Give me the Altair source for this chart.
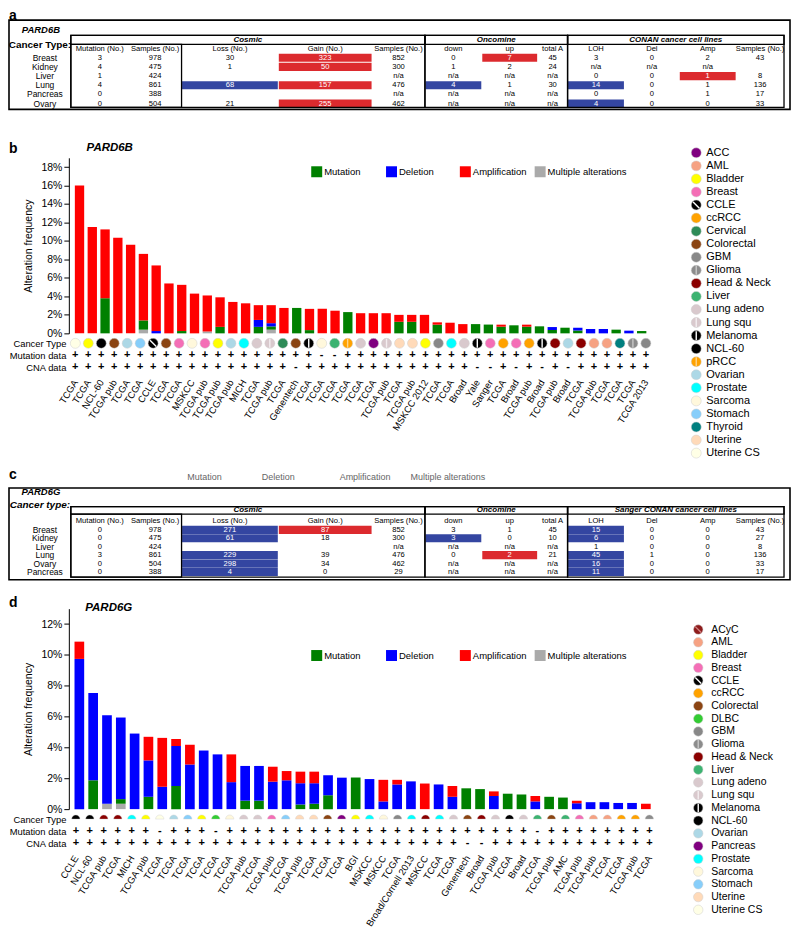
import json
import altair as alt
import pandas as pd

FONT = "Liberation Sans"

# ======================= Panel a : PARD6B table =======================
a_gene = "PARD6B"
a_types = ["Breast", "Kidney", "Liver", "Lung", "Pancreas", "Ovary"]
a_mutation = ["3", "4", "1", "4", "0", "0"]
a_samples = ["978", "475", "424", "861", "388", "504"]
a_loss = ["30", "1", "", "68", "", "21"]
a_gain = ["323", "50", "", "157", "", "255"]
a_cosmic_samples = ["852", "300", "n/a", "476", "n/a", "462"]
a_down = ["0", "1", "n/a", "4", "n/a", "n/a"]
a_up = ["7", "2", "n/a", "1", "n/a", "n/a"]
a_total = ["45", "24", "n/a", "30", "n/a", "n/a"]
a_loh = ["3", "n/a", "0", "14", "0", "4"]
a_del = ["0", "n/a", "0", "0", "0", "0"]
a_amp = ["2", "n/a", "1", "1", "1", "0"]
a_conan_samples = ["43", "", "8", "136", "17", "33"]
# highlighted cells: R = red (over), B = blue (under)
a_loss_hl = ["", "", "", "B", "", ""]
a_gain_hl = ["R", "R", "", "R", "", "R"]
a_down_hl = ["", "", "", "B", "", ""]
a_up_hl = ["R", "", "", "", "", ""]
a_loh_hl = ["", "", "", "B", "", "B"]
a_amp_hl = ["", "", "R", "", "", ""]
a_groups = ["Cosmic", "Oncomine", "CONAN cancer cell lines"]

# ======================= Panel c : PARD6G table =======================
c_gene = "PARD6G"
c_types = ["Breast", "Kidney", "Liver", "Lung", "Ovary", "Pancreas"]
c_mutation = ["0", "0", "0", "3", "0", "0"]
c_samples = ["978", "475", "424", "861", "504", "388"]
c_loss = ["271", "61", "", "229", "298", "4"]
c_gain = ["87", "18", "", "39", "34", "0"]
c_cosmic_samples = ["852", "300", "n/a", "476", "462", "29"]
c_down = ["3", "3", "n/a", "0", "n/a", "n/a"]
c_up = ["1", "0", "n/a", "2", "n/a", "n/a"]
c_total = ["45", "10", "n/a", "21", "n/a", "n/a"]
c_loh = ["15", "6", "1", "45", "16", "11"]
c_del = ["0", "0", "0", "1", "0", "0"]
c_amp = ["0", "0", "0", "0", "0", "0"]
c_conan_samples = ["43", "27", "8", "136", "33", "17"]
c_loss_hl = ["B", "B", "", "B", "B", "B"]
c_gain_hl = ["R", "", "", "", "", ""]
c_down_hl = ["", "B", "", "", "", ""]
c_up_hl = ["", "", "", "R", "", ""]
c_loh_hl = ["B", "B", "", "B", "B", "B"]
c_groups = ["Cosmic", "Oncomine", "Sanger CONAN cancer cell lines"]

table_headers = ["Mutation (No.)", "Samples (No.)", "Loss (No.)", "Gain (No.)", "Samples (No.)",
                 "down", "up", "total A", "LOH", "Del", "Amp", "Samples (No.)"]
stray_legend_text = ["Mutation", "Deletion", "Amplification", "Multiple alterations"]

# ======================= Panel b : PARD6B cross-cancer =======================
b_labels = ["TCGA", "TCGA", "NCL-60", "TCGA pub", "TCGA", "TCGA", "CCLE", "TCGA", "TCGA", "MSKCC",
            "TCGA pub", "TCGA pub", "TCGA pub", "MICH", "TCGA", "TCGA pub", "TCGA", "Genentech", "TCGA", "TCGA",
            "TCGA", "TCGA", "TCGA", "TCGA", "TCGA pub", "TCGA", "TCGA pub", "MSKCC 2012", "TCGA", "TCGA",
            "Broad", "Yale", "Sanger", "TCGA", "Broad", "TCGA pub", "Broad", "TCGA pub", "Broad", "TCGA",
            "TCGA pub", "TCGA", "TCGA", "TCGA", "TCGA 2013"]
b_types = ["Uterine CS", "Bladder", "NCL-60", "Colorectal", "Ovarian", "Stomach", "CCLE", "Colorectal", "Breast", "Sarcoma",
           "Breast", "Bladder", "Ovarian", "Prostate", "Lung adeno", "Lung squ", "Cervical", "Colorectal", "Melanoma", "Sarcoma",
           "Liver", "pRCC", "Lung adeno", "ACC", "Lung squ", "Uterine", "Uterine", "Bladder", "GBM", "Prostate",
           "Lung adeno", "Melanoma", "Breast", "ccRCC", "Breast", "ccRCC", "Melanoma", "Head & Neck", "Ovarian", "Head & Neck",
           "AML", "AML", "Thyroid", "Glioma", "GBM"]
b_mutation_data = ["+"] * 19 + ["-", "-"] + ["+"] * 24
b_cna_data = (["+"] * 17 + ["-"] + ["+"] * 13 + ["-", "-", "+", "-", "+", "-", "+", "-"] + ["+"] * 6)
b_mut = [0, 0, 3.8, 0, 0, 1.0, 0, 0, 0.25, 0, 0, 0.7, 0, 0, 0.7, 0.35, 0, 2.75, 0.35, 0,
         0, 2.3, 0, 0, 0, 1.25, 1.25, 0, 0.94, 0, 0, 1.0, 0.95, 0.72, 0.87, 0.72, 0.76, 0.36, 0.61, 0.3,
         0, 0, 0.4, 0, 0.25]
b_del = [0, 0, 0, 0, 0, 0, 0.25, 0, 0, 0, 0, 0, 0, 0, 0.75, 0.35, 0, 0, 0, 0,
         0, 0, 0, 0, 0, 0, 0, 0, 0, 0, 0, 0, 0, 0, 0, 0, 0, 0.32, 0, 0.3,
         0.47, 0.47, 0, 0.29, 0]
b_amp = [16.0, 11.5, 7.45, 10.35, 9.6, 7.2, 7.1, 5.4, 5.0, 4.3, 3.9, 3.2, 3.4, 3.25, 1.6, 1.95, 2.75, 0, 2.3, 2.65,
         2.45, 0, 2.18, 2.18, 2.18, 0.75, 0.75, 2.0, 0.25, 1.15, 1.0, 0, 0, 0.22, 0, 0.22, 0, 0, 0, 0,
         0, 0, 0, 0, 0]
b_multi = [0, 0, 0, 0, 0, 0.4, 0, 0, 0, 0, 0.2, 0, 0, 0, 0, 0.4, 0, 0, 0, 0,
           0, 0, 0, 0, 0, 0, 0, 0, 0, 0, 0, 0, 0, 0, 0, 0, 0, 0, 0, 0,
           0, 0, 0, 0, 0]
b_ticks = [0, 0.02, 0.04, 0.06, 0.08, 0.10, 0.12, 0.14, 0.16, 0.18]
b_legend = ["ACC", "AML", "Bladder", "Breast", "CCLE", "ccRCC", "Cervical", "Colorectal", "GBM", "Glioma",
            "Head & Neck", "Liver", "Lung adeno", "Lung squ", "Melanoma", "NCL-60", "pRCC", "Ovarian", "Prostate",
            "Sarcoma", "Stomach", "Thyroid", "Uterine", "Uterine CS"]

# ======================= Panel d : PARD6G cross-cancer =======================
d_labels = ["CCLE", "NCL-60", "TCGA pub", "TCGA", "MICH", "TCGA pub", "TCGA", "TCGA", "TCGA", "TCGA",
            "TCGA", "TCGA", "TCGA pub", "TCGA", "TCGA pub", "TCGA", "TCGA pub", "TCGA", "TCGA", "TCGA",
            "BGI", "MSKCC", "MSKCC", "TCGA", "Broad/Cornell 2013", "MSKCC", "TCGA", "TCGA", "Genentech", "Broad",
            "TCGA pub", "TCGA", "Broad", "TCGA", "TCGA pub", "AMC", "TCGA pub", "TCGA pub", "TCGA", "TCGA",
            "TCGA pub", "TCGA"]
d_types = ["CCLE", "NCL-60", "Head & Neck", "Head & Neck", "Prostate", "Bladder", "Uterine CS", "Ovarian", "Stomach", "Bladder",
           "DLBC", "Sarcoma", "Lung adeno", "Lung squ", "Breast", "Stomach", "Uterine", "Uterine", "Colorectal", "Pancreas",
           "Bladder", "Prostate", "Sarcoma", "GBM", "Prostate", "Head & Neck", "Prostate", "Lung adeno", "Colorectal", "Head & Neck",
           "Lung adeno", "Melanoma", "Lung adeno", "Liver", "Colorectal", "Liver", "Breast", "AML", "AML", "ccRCC",
           "ccRCC", "Glioma"]
d_mutation_data = ["+"] * 6 + ["-"] + ["+"] * 3 + ["-"] + ["+"] * 22 + ["-"] + ["+"] * 8
d_cna_data = ["+"] * 28 + ["-", "-"] + ["+"] * 12
d_mut = [0, 1.87, 0, 0.3, 0, 0.8, 0, 1.5, 0, 0,
         0, 0, 0.55, 0.55, 0, 0, 0.3, 0.35, 0.9, 0,
         2.05, 0, 0, 0, 0, 0, 0, 0, 1.35, 1.3,
         0, 1.0, 0.95, 0, 0.8, 0.75, 0, 0, 0, 0, 0, 0]
d_del = [9.74, 5.66, 5.74, 5.29, 4.9, 2.36, 1.45, 2.59, 2.9, 3.8,
         3.55, 1.75, 2.25, 2.25, 1.78, 1.87, 1.38, 1.33, 1.3, 2.04,
         0, 1.95, 0.5, 1.6, 1.8, 0, 1.6, 0.8, 0, 0,
         0.85, 0, 0, 0.5, 0, 0, 0.38, 0.45, 0.45, 0.4, 0.4, 0]
d_amp = [1.12, 0, 0, 0, 0, 1.53, 3.17, 0.45, 1.27, 0,
         0, 1.8, 0, 0, 0.97, 0.6, 0.75, 0.75, 0, 0,
         0, 0, 1.4, 0.3, 0, 1.66, 0, 0.7, 0, 0,
         0.3, 0, 0, 0.35, 0, 0, 0.17, 0, 0, 0, 0, 0.35]
d_multi = [0, 0, 0.35, 0.35, 0, 0, 0, 0, 0, 0,
           0, 0, 0, 0, 0, 0, 0, 0, 0, 0,
           0, 0, 0, 0, 0, 0, 0, 0, 0, 0,
           0, 0, 0, 0, 0, 0, 0, 0, 0, 0, 0, 0]
d_ticks = [0, 0.02, 0.04, 0.06, 0.08, 0.10, 0.12]
d_legend = ["ACyC", "AML", "Bladder", "Breast", "CCLE", "ccRCC", "Colorectal", "DLBC", "GBM", "Glioma",
            "Head & Neck", "Liver", "Lung adeno", "Lung squ", "Melanoma", "NCL-60", "Ovarian", "Pancreas",
            "Prostate", "Sarcoma", "Stomach", "Uterine", "Uterine CS"]

# ======================= styles / layout =======================
CT_COLORS = {
    "ACC": "#800080", "ACyC": "#8E1B1B", "AML": "#F6A283", "Bladder": "#FFFF00", "Breast": "#F46EB6",
    "CCLE": "#000000", "ccRCC": "#FFA200", "Cervical": "#2E8B57", "Colorectal": "#8B4513", "DLBC": "#33CC33",
    "GBM": "#888888", "Glioma": "#8C8C8C", "Head & Neck": "#8B0000", "Liver": "#3CB371", "Lung adeno": "#D9C9CD",
    "Lung squ": "#D9C9CD", "Melanoma": "#000000", "NCL-60": "#000000", "pRCC": "#FFA200", "Ovarian": "#ADD8E6",
    "Pancreas": "#800080", "Prostate": "#00FFFF", "Sarcoma": "#FFF8DC", "Stomach": "#87CEFA", "Thyroid": "#008080",
    "Uterine": "#FFDAB9", "Uterine CS": "#FFFFE6",
}
DIAG = "M-0.7,-0.7L0.7,0.7"
VERT = "M0,-1L0,1"
CT_PATTERN = {"CCLE": (DIAG, "#FFFFFF"), "ACyC": (DIAG, "#D08080"), "Melanoma": (VERT, "#FFFFFF"),
              "Glioma": (VERT, "#C8C8C8"), "pRCC": (VERT, "#FFD58A"), "Lung squ": (VERT, "#F4EEF0")}
ALT_NAMES = ["Mutation", "Deletion", "Amplification", "Multiple alterations"]
ALT_COLORS = {"Mutation": "#008000", "Deletion": "#0000FF", "Amplification": "#FF0000",
              "Multiple alterations": "#AAAAAA"}
ALT_LEGEND_X = [311, 386, 460, 535]
HL_FILL = {"R": "#DC2A2E", "B": "#3446A1"}
COL_EDGES = [70, 128, 181, 278, 372, 425, 482, 538, 568, 625, 680, 737, 785]
GROUP_COLS = [(0, 5), (5, 8), (8, 12)]
ORIGIN_X = 68          # x of the bar charts' y axis (reference pixels)
TABLE_W = 724
D_TOP = 609            # top of panel d plot area
D_SHIFT = D_TOP - 611
LETTER = {"fontSize": 14, "fontWeight": "bold", "align": "left", "baseline": "top"}


def table_layers(gene, type_label, type_italic, types, columns, highlights, groups, L, extras, y0, y1):
    X = alt.X("x:Q", scale=alt.Scale(domain=[ORIGIN_X, ORIGIN_X + TABLE_W], nice=False, zero=False), axis=None)
    Y = alt.Y("y:Q", scale=alt.Scale(domain=[y0, y1], nice=False, zero=False, reverse=True), axis=None)
    E = COL_EDGES
    cells, rects = [], []
    for r in range(len(types)):
        yc = L["row0"] + r * L["step"]
        for c, vals in enumerate(columns):
            h = highlights[c][r] if highlights[c] else ""
            if vals[r] != "":
                cells.append({"x": (E[c] + E[c + 1]) / 2, "y": yc, "text": vals[r],
                              "tc": "white" if h else "black"})
            if h:
                rects.append({"x": E[c] + 0.5, "x2": E[c + 1] - 0.5, "y": yc - 4.1, "y2": yc + 4.1,
                              "fill": HL_FILL[h]})
    boxes = [{"x": 8, "x2": 791, "y": L["box_top"], "y2": L["box_bot"], "sw": 1.6}]
    for g0, g1 in GROUP_COLS:
        boxes.append({"x": E[g0], "x2": E[g1], "y": L["hdr_top"], "y2": L["hdr_bot"], "sw": 1.3})
        boxes.append({"x": E[g0], "x2": E[g1], "y": L["hdr_top"], "y2": L["inner_bot"], "sw": 1.3})
    boxes.append({"x": E[0], "x2": E[2], "y": L["hdr_bot"], "y2": L["inner_bot"], "sw": 1.3})

    grp = pd.DataFrame([{"x": (E[g0] + E[g1]) / 2, "y": (L["hdr_top"] + L["hdr_bot"]) / 2, "text": g}
                        for (g0, g1), g in zip(GROUP_COLS, groups)])
    hdr = pd.DataFrame([{"x": (E[c] + E[c + 1]) / 2, "y": L["col_y"], "text": t}
                        for c, t in enumerate(table_headers)])
    rowlab = pd.DataFrame([{"x": 44, "y": L["row0"] + r * L["step"], "text": t} for r, t in enumerate(types)])

    layers = [
        alt.Chart(pd.DataFrame(rects)).mark_rect().encode(
            x=X, x2="x2:Q", y=Y, y2="y2:Q", color=alt.Color("fill:N", scale=None)),
        alt.Chart(pd.DataFrame(boxes)).mark_rect(filled=False, stroke="black").encode(
            x=X, x2="x2:Q", y=Y, y2="y2:Q", strokeWidth=alt.StrokeWidth("sw:Q", scale=None)),
        alt.Chart(pd.DataFrame(cells)).mark_text(fontSize=7.6, baseline="middle").encode(
            x=X, y=Y, text="text:N", color=alt.Color("tc:N", scale=None)),
        alt.Chart(grp).mark_text(fontSize=8, fontWeight="bold", fontStyle="italic", baseline="middle").encode(
            x=X, y=Y, text="text:N"),
        alt.Chart(hdr).mark_text(fontSize=7.6, baseline="middle").encode(x=X, y=Y, text="text:N"),
        alt.Chart(rowlab).mark_text(fontSize=8.5, baseline="middle").encode(x=X, y=Y, text="text:N"),
        alt.Chart(pd.DataFrame([{"x": 40, "y": L["gene_y"], "text": gene}])).mark_text(
            fontSize=9.5, fontWeight="bold", fontStyle="italic", baseline="middle").encode(x=X, y=Y, text="text:N"),
        alt.Chart(pd.DataFrame([{"x": 39, "y": L["type_y"], "text": type_label}])).mark_text(
            fontSize=10, fontWeight="bold", fontStyle="italic" if type_italic else "normal",
            baseline="middle").encode(x=X, y=Y, text="text:N"),
    ]
    for ex in extras:
        kw = {"baseline": "middle"}
        kw.update(ex["style"])
        layers.append(alt.Chart(pd.DataFrame(ex["rows"])).mark_text(**kw).encode(x=X, y=Y, text="text:N"))
    return layers


def bar_long(mut, dele, amp, multi):
    rows = []
    for i in range(len(mut)):
        for name, arr, o in [("Multiple alterations", multi, 0), ("Mutation", mut, 1),
                             ("Deletion", dele, 2), ("Amplification", amp, 3)]:
            if arr[i] > 0:
                rows.append({"idx": i, "alteration": name, "freq": arr[i] / 100.0, "ord": o,
                             "col": ALT_COLORS[name]})
    return pd.DataFrame(rows)


def bar_chart(df, n, width, height, ymax, ticks, pi, po, leg_y):
    xs = alt.Scale(domain=list(range(n)), paddingInner=pi, paddingOuter=po)
    bars = alt.Chart(df).mark_bar().encode(
        x=alt.X("idx:O", scale=xs, axis=None),
        y=alt.Y("freq:Q", stack="zero", scale=alt.Scale(domain=[0, ymax], nice=False),
                axis=alt.Axis(values=ticks, format=".0%", title="Alteration frequency", grid=False,
                              domainColor="black", tickColor="black", labelColor="black", titleColor="black",
                              labelFontSize=10.5, titleFontSize=10.5, titleFontWeight="normal", tickSize=5,
                              labelPadding=2, titlePadding=7)),
        color=alt.Color("col:N", scale=None),
        order=alt.Order("ord:Q", sort="ascending"),
    )
    leg = pd.DataFrame({"name": ALT_NAMES, "col": [ALT_COLORS[k] for k in ALT_NAMES],
                        "sx": [x - ORIGIN_X + 5.5 for x in ALT_LEGEND_X],
                        "tx": [x - ORIGIN_X + 13 for x in ALT_LEGEND_X]})
    lx = alt.Scale(domain=[0, width], nice=False, zero=False)
    squares = alt.Chart(leg).mark_square(size=121, opacity=1).encode(
        x=alt.X("sx:Q", scale=lx, axis=None), y=alt.value(leg_y), color=alt.Color("col:N", scale=None))
    texts = alt.Chart(leg).mark_text(fontSize=9.5, align="left", baseline="middle").encode(
        x=alt.X("tx:Q", scale=lx, axis=None), y=alt.value(leg_y), text="name:N")
    return alt.layer(bars, alt.layer(squares, texts)).resolve_scale(x="independent").properties(
        width=width, height=height)


def ct_legend(names, cx, tx, y_first, step, top_ref, size, font):
    ly = [y_first + k * step - top_ref for k in range(len(names))]
    df = pd.DataFrame({"name": names, "col": [CT_COLORS[n] for n in names], "ly": ly,
                       "pat": [CT_PATTERN.get(n, ("", ""))[0] for n in names],
                       "pcol": [CT_PATTERN.get(n, ("", ""))[1] for n in names]})
    ys = alt.Scale(domain=[0, 44], nice=False, zero=False, reverse=True)
    Y = alt.Y("ly:Q", scale=ys, axis=None)
    dots = alt.Chart(df).mark_circle(size=size, opacity=1, stroke="#cfcfcf", strokeWidth=0.5).encode(
        x=alt.value(cx - ORIGIN_X), y=Y, color=alt.Color("col:N", scale=None))
    stripes = alt.Chart(df[df["pat"] != ""]).mark_point(filled=False, strokeWidth=1.4, size=size * 0.8,
                                                        opacity=1).encode(
        x=alt.value(cx - ORIGIN_X), y=Y, shape=alt.Shape("pat:N", scale=None),
        color=alt.Color("pcol:N", scale=None))
    text = alt.Chart(df).mark_text(fontSize=font, align="left", baseline="middle").encode(
        x=alt.value(tx - ORIGIN_X), y=Y, text="name:N")
    return alt.layer(dots, stripes, text)


def track_chart(n, labels, types, mut_data, cna_data, width, pi, po, legend, semicircle):
    rows = ["Cancer Type", "Mutation data", "CNA data"]
    ys = alt.Scale(type="point", domain=rows, padding=0.833)
    xs = alt.Scale(domain=list(range(n)), paddingInner=pi, paddingOuter=po)
    lab_expr = json.dumps(labels) + "[datum.value]"
    xaxis = alt.Axis(title=None, labelExpr=lab_expr, labelAngle=302, ticks=False, domain=False,
                     labelFontSize=9.5, labelPadding=3, labelColor="black", labelOverlap=False, orient="bottom")
    yaxis = alt.Axis(title=None, domain=False, ticks=False, labelFontSize=9.4, labelPadding=3,
                     labelColor="black")
    circ = pd.DataFrame({"idx": list(range(n)), "row": ["Cancer Type"] * n,
                         "col": [CT_COLORS[t] for t in types],
                         "pat": [CT_PATTERN.get(t, ("", ""))[0] for t in types],
                         "pcol": [CT_PATTERN.get(t, ("", ""))[1] for t in types]})
    signs = pd.DataFrame({"idx": list(range(n)) * 2,
                          "row": ["Mutation data"] * n + ["CNA data"] * n,
                          "sign": mut_data + cna_data})
    X = alt.X("idx:O", scale=xs, axis=xaxis)
    if semicircle:
        mark = alt.Chart(circ).mark_point(shape="M-1,0A1,1,0,0,1,1,0Z", filled=True, size=70, opacity=1,
                                          stroke="#cfcfcf", strokeWidth=0.4)
    else:
        mark = alt.Chart(circ).mark_circle(size=100, opacity=1, stroke="#cfcfcf", strokeWidth=0.5)
    circles = mark.encode(x=X, y=alt.Y("row:N", scale=ys, axis=yaxis), color=alt.Color("col:N", scale=None))
    layers = [circles]
    if not semicircle:
        layers.append(alt.Chart(circ[circ["pat"] != ""]).mark_point(filled=False, strokeWidth=1.4, size=80,
                                                                    opacity=1).encode(
            x=alt.X("idx:O", scale=xs), y=alt.Y("row:N", scale=ys),
            shape=alt.Shape("pat:N", scale=None), color=alt.Color("pcol:N", scale=None)))
    layers.append(alt.Chart(signs).mark_text(fontSize=11, fontWeight="bold", baseline="middle").encode(
        x=alt.X("idx:O", scale=xs), y=alt.Y("row:N", scale=ys), text="sign:N"))
    return alt.layer(alt.layer(*layers), legend).resolve_scale(y="independent").properties(
        width=width, height=44)


# ---------------- section 1 : table a (+ panel b headings) ----------------
LA = {"box_top": 19, "box_bot": 108.5, "gene_y": 28.5, "type_y": 43.5, "hdr_top": 34.3, "hdr_bot": 43.3,
      "col_y": 48.3, "row0": 56.7, "step": 9.2, "inner_bot": 106.5}
extras_a = [
    {"rows": [{"x": 8, "y": 8, "text": "a"}], "style": LETTER},
    {"rows": [{"x": 8, "y": 141, "text": "b"}], "style": LETTER},
    {"rows": [{"x": 109, "y": 147, "text": a_gene}],
     "style": {"fontSize": 11.5, "fontWeight": "bold", "fontStyle": "italic"}},
]
sec1 = alt.layer(*table_layers(
    a_gene, "Cancer Type:", False, a_types,
    [a_mutation, a_samples, a_loss, a_gain, a_cosmic_samples, a_down, a_up, a_total, a_loh, a_del, a_amp,
     a_conan_samples],
    [None, None, a_loss_hl, a_gain_hl, None, a_down_hl, a_up_hl, None, a_loh_hl, None, a_amp_hl, None],
    a_groups, LA, extras_a, 8, 157)).properties(width=TABLE_W, height=149)

# ---------------- section 2/3 : panel b ----------------
B_W = 585
sec2 = bar_chart(bar_long(b_mut, b_del, b_amp, b_multi), len(b_mut), B_W, 176, 0.19, b_ticks, 0.27, 0.47,
                 171 - 157)
sec3 = track_chart(len(b_mut), b_labels, b_types, b_mutation_data, b_cna_data, B_W, 0.27, 0.47,
                   ct_legend(b_legend, 697, 707, 152, 13.09, 333, 100, 11), False)

# ---------------- section 4 : table c (+ panel d headings) ----------------
LC = {"box_top": 488, "box_bot": 580, "gene_y": 492.5, "type_y": 505.5, "hdr_top": 506.8, "hdr_bot": 514.3,
      "col_y": 521.5, "row0": 530, "step": 8.45, "inner_bot": 577.5}
extras_c = [
    {"rows": [{"x": 8, "y": 468, "text": "c"}], "style": LETTER},
    {"rows": [{"x": 204, "y": 477, "text": stray_legend_text[0]},
              {"x": 278, "y": 477, "text": stray_legend_text[1]},
              {"x": 365, "y": 477, "text": stray_legend_text[2]},
              {"x": 448, "y": 477, "text": stray_legend_text[3]}],
     "style": {"fontSize": 9, "color": "#666666"}},
    {"rows": [{"x": 8, "y": 598 + D_SHIFT, "text": "d"}], "style": LETTER},
    {"rows": [{"x": 108, "y": 610 + D_SHIFT, "text": c_gene}],
     "style": {"fontSize": 11.5, "fontWeight": "bold", "fontStyle": "italic"}},
]
sec4 = alt.layer(*table_layers(
    c_gene, "Cancer type:", True, c_types,
    [c_mutation, c_samples, c_loss, c_gain, c_cosmic_samples, c_down, c_up, c_total, c_loh, c_del, c_amp,
     c_conan_samples],
    [None, None, c_loss_hl, c_gain_hl, None, c_down_hl, c_up_hl, None, c_loh_hl, None, None, None],
    c_groups, LC, extras_c, 377, D_TOP)).properties(width=TABLE_W, height=D_TOP - 377)

# ---------------- section 5/6 : panel d ----------------
D_W = 589
D_H = 201
sec5 = bar_chart(bar_long(d_mut, d_del, d_amp, d_multi), len(d_mut), D_W, D_H, 0.13, d_ticks, 0.3, 0.41,
                 658 - 611)
sec6 = track_chart(len(d_mut), d_labels, d_types, d_mutation_data, d_cna_data, D_W, 0.3, 0.41,
                   ct_legend(d_legend, 699, 712, 632 + D_SHIFT, 12.77, D_TOP + D_H, 90, 10.5), True)

chart = alt.vconcat(sec1, sec2, sec3, sec4, sec5, sec6, spacing=0, bounds="flush").properties(
    padding=0).configure(font=FONT).configure_view(strokeWidth=0, stroke="transparent")

chart.save("out.html", embed_options={"renderer": "svg", "actions": False})
